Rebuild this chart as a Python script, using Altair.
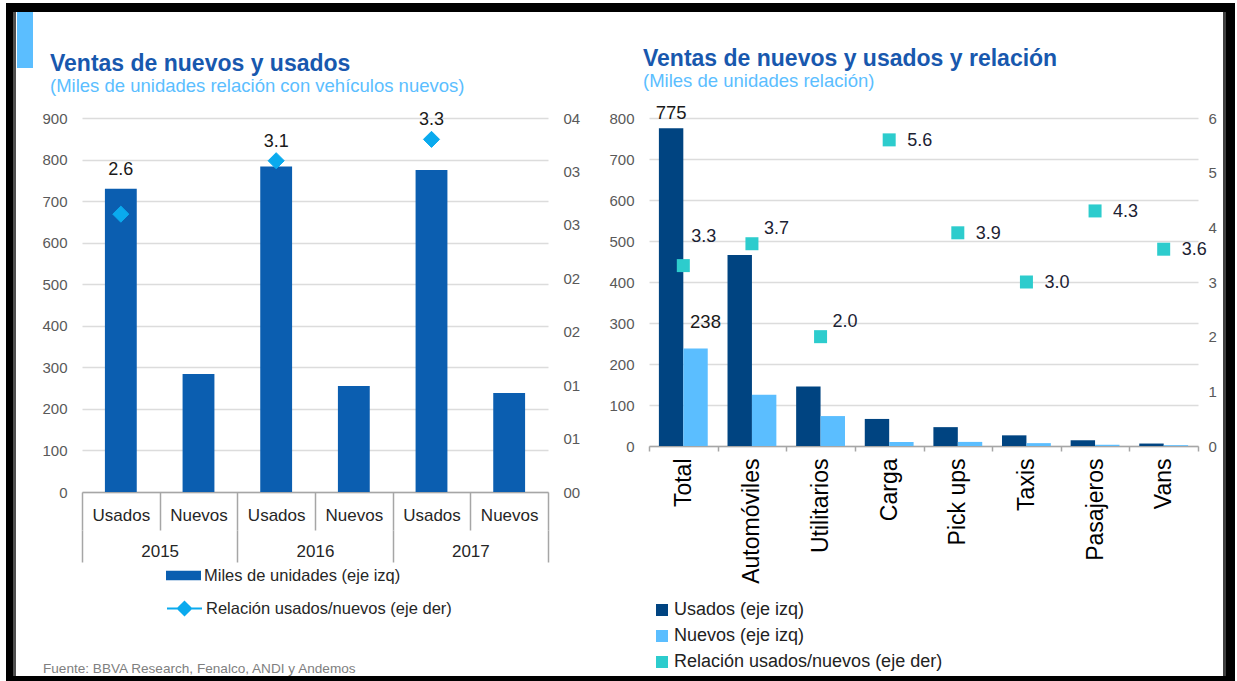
import altair as alt
import pandas as pd

# ---------------- data: left chart ----------------
anios = ["2015", "2015", "2016", "2016", "2017", "2017"]
tipos = ["Usados", "Nuevos", "Usados", "Nuevos", "Usados", "Nuevos"]
miles_unidades = [730, 284, 783, 255, 775, 238]
relacion_anual = [2.6, None, 3.1, None, 3.3, None]
anios_unicos = ["2015", "2016", "2017"]
eje_der_izq = [0, 0.5, 1, 1.5, 2, 2.5, 3, 3.5]

# ---------------- data: right chart ----------------
categorias = ["Total", "Automóviles", "Utilitarios", "Carga", "Pick ups", "Taxis", "Pasajeros", "Vans"]
usados = [775, 466, 145, 66, 46, 26, 14, 6]
nuevos = [238, 125, 73, 10, 10, 7, 3, 2]
relacion = [3.3, 3.7, 2.0, 5.6, 3.9, 3.0, 4.3, 3.6]

S_US = "Usados (eje izq)"
S_NU = "Nuevos (eje izq)"
S_REL = "Relación usados/nuevos (eje der)"

FONT = "Liberation Sans, Arial, sans-serif"
BAR = "#0B5EB0"
DIAM = "#0AAAEE"
NAVY = "#004481"
LIGHT = "#5BBEFF"
TEAL = "#2DCCCD"
TITLE = "#1858AE"
GRID = "#DCDCDC"
AXC = "#A6A6A6"
GREY = "#595959"

keys = [a + " " + t for a, t in zip(anios, tipos)]
left_df = pd.DataFrame({
    "anio": anios, "tipo": tipos, "key": keys, "miles": miles_unidades,
    "rel": relacion_anual,
    "leyenda": "Miles de unidades (eje izq)",
    "leyenda2": S_REL,
})
rel_df = left_df.dropna(subset=["rel"]).copy()
one = pd.DataFrame({"a": [0]})


def deco(x1, x2, y1, y2, color):
    return alt.Chart(one).mark_rect(color=color).encode(
        x=alt.value(x1), x2=alt.value(x2), y=alt.value(y1), y2=alt.value(y2))


def label(text, x, y, size, color, bold=False):
    return alt.Chart(one).mark_text(
        text=text, align="left", baseline="alphabetic", font=FONT,
        fontSize=size, fontWeight="bold" if bold else "normal", color=color
    ).encode(x=alt.value(x), y=alt.value(y))


xs_left = alt.Scale(domain=keys, paddingInner=0, paddingOuter=0)

bars = alt.Chart(left_df).mark_bar(width=alt.RelativeBandSize(0.41)).encode(
    x=alt.X("key:N", sort=keys, scale=xs_left, axis=alt.Axis(
        title=None, labelExpr="split(datum.label, ' ')[1]", tickBand="extent",
        tickSize=38, tickColor=AXC, tickWidth=1.5, domainColor=AXC, domainWidth=1.5,
        labelPadding=-23, labelFont=FONT, labelFontSize=17, labelColor="#262626",
        labelAngle=0, grid=False)),
    y=alt.Y("miles:Q", scale=alt.Scale(domain=[0, 900]), axis=alt.Axis(
        title=None, values=list(range(0, 901, 100)), grid=True, gridColor=GRID,
        gridWidth=1.5, ticks=False, domain=False, labelPadding=15, labelFont=FONT,
        labelFontSize=15, labelColor=GREY)),
    color=alt.Color("leyenda:N", scale=alt.Scale(range=[BAR]), legend=alt.Legend(
        title=None, orient="none", legendX=84, legendY=440,
        symbolType="M-1,-0.27H1V0.27H-1Z", symbolSize=1225, symbolStrokeWidth=0,
        labelFont=FONT, labelFontSize=16.5, labelColor="#262626", labelOffset=3,
        labelLimit=0, padding=0)),
)

legend_diam = alt.Legend(
    title=None, orient="none", legendX=84, legendY=472,
    symbolType="M-1,0H1M0,-0.38L0.38,0L0,0.38L-0.38,0Z", symbolSize=1225,
    symbolStrokeWidth=2, labelFont=FONT, labelFontSize=16.5, labelColor="#262626",
    labelOffset=3, labelLimit=0, padding=0)

diamonds = alt.Chart(rel_df).mark_point(shape="diamond", filled=True, size=260,
                                        opacity=1, strokeWidth=1).encode(
    x=alt.X("key:N", sort=keys, scale=xs_left, axis=None),
    y=alt.Y("rel:Q", scale=alt.Scale(domain=[0, 3.5]), axis=alt.Axis(
        title=None, orient="right", values=eje_der_izq, grid=False, ticks=False,
        domain=False, labelPadding=15, labelFont=FONT, labelFontSize=15,
        labelColor=GREY,
        labelExpr="(round(datum.value) < 10 ? '0' : '') + round(datum.value)")),
    fill=alt.Fill("leyenda2:N", scale=alt.Scale(range=[DIAM]), legend=legend_diam),
    stroke=alt.Stroke("leyenda2:N", scale=alt.Scale(range=[DIAM]), legend=legend_diam),
)

rel_labels = alt.Chart(rel_df).transform_calculate(
    pos="max(datum.miles, datum.rel * 900 / 3.5)"
).mark_text(dy=-19, baseline="middle", font=FONT, fontSize=18, color="#1a1a1a").encode(
    x=alt.X("key:N", sort=keys, scale=xs_left, axis=None),
    y=alt.Y("pos:Q", scale=alt.Scale(domain=[0, 900]), axis=None),
    text=alt.Text("rel:Q", format=".1f"),
)

year_axis = alt.Chart(pd.DataFrame({"anio": anios_unicos})).mark_point(opacity=0).encode(
    x=alt.X("anio:N", sort=anios_unicos,
            scale=alt.Scale(domain=anios_unicos, paddingInner=0, paddingOuter=0),
            axis=alt.Axis(title=None, orient="bottom", offset=38, domain=False,
                          tickBand="extent", tickSize=32, tickColor=AXC, tickWidth=1.5,
                          labelPadding=-19, labelAngle=0, labelFont=FONT,
                          labelFontSize=17, labelColor="#262626", grid=False)),
    y=alt.value(0),
)

# frame of the whole figure (relative to the left plot origin at page 82,118)
left = alt.layer(
    deco(-76, 1153, -115, -106, "#000000"),
    deco(-76, 1153, 558, 563, "#000000"),
    deco(-76, -69, -115, 563, "#000000"),
    deco(-69, -66, -106, 558, "#505050"),
    deco(1144, 1153, -115, 563, "#000000"),
    deco(1141, 1144, -106, 558, "#404040"),
    deco(-65, -49, -106, -50, LIGHT),
    label("Ventas de nuevos y usados", -32, -47, 23, TITLE, bold=True),
    label("(Miles de unidades relación con vehículos nuevos)", -32, -26, 18.5, LIGHT),
    label("Fuente: BBVA Research, Fenalco, ANDI y Andemos", -39, 555, 13.6, "#7F7F7F"),
    bars, diamonds, rel_labels, year_axis,
).resolve_scale(x="independent", y="independent", color="independent",
                fill="independent", stroke="independent").properties(
    width=466, height=374)

# ---------------- right chart ----------------
long_df = pd.DataFrame({
    "categoria": categorias * 2,
    "serie": [S_US] * len(categorias) + [S_NU] * len(categorias),
    "valor": usados + nuevos,
})
rel2 = pd.DataFrame({"categoria": categorias, "relacion": relacion, "serie": S_REL})

xs_right = alt.Scale(domain=categorias, paddingInner=0, paddingOuter=0)
x_axis_right = alt.Axis(
    title=None, tickBand="extent", tickSize=5, tickColor=AXC, tickWidth=1.5,
    domainColor=AXC, domainWidth=1.5, labelAngle=270, labelAlign="right",
    labelBaseline="middle", labelPadding=7, labelFont=FONT, labelFontSize=23,
    labelColor="#000000", grid=False)
x_right = alt.X("categoria:N", sort=categorias, scale=xs_right, axis=x_axis_right)
xo_scale = alt.Scale(domain=[S_US, S_NU], paddingInner=0, paddingOuter=0.405)
color_right = alt.Scale(domain=[S_US, S_NU, S_REL], range=[NAVY, LIGHT, TEAL])
legend_right = alt.Legend(
    title=None, orient="none", legendX=4, legendY=483, symbolType="square",
    symbolSize=144, symbolStrokeWidth=0, labelFont=FONT, labelFontSize=18,
    labelColor="#222222", rowPadding=8, labelOffset=3, labelLimit=0, padding=0)

bars2 = alt.Chart(long_df).mark_bar().encode(
    x=x_right,
    xOffset=alt.XOffset("serie:N", sort=[S_US, S_NU], scale=xo_scale),
    y=alt.Y("valor:Q", scale=alt.Scale(domain=[0, 800]), axis=alt.Axis(
        title=None, values=list(range(0, 801, 100)), grid=True, gridColor=GRID,
        gridWidth=1.5, ticks=False, domain=False, labelPadding=15, labelFont=FONT,
        labelFontSize=15, labelColor=GREY)),
    color=alt.Color("serie:N", scale=color_right, legend=legend_right),
)

squares = alt.Chart(rel2).mark_square(size=169, opacity=1).encode(
    x=x_right,
    y=alt.Y("relacion:Q", scale=alt.Scale(domain=[0, 6]), axis=alt.Axis(
        title=None, orient="right", values=[0, 1, 2, 3, 4, 5, 6], grid=False,
        ticks=False, domain=False, labelPadding=10, labelFont=FONT,
        labelFontSize=15, labelColor=GREY)),
    color=alt.Color("serie:N", scale=color_right, legend=legend_right),
)


def rel_text(cats, dx, dy):
    return alt.Chart(rel2).transform_filter(
        alt.FieldOneOfPredicate(field="categoria", oneOf=cats)
    ).mark_text(align="left", baseline="middle", dx=dx, dy=dy, font=FONT,
                fontSize=18, color="#1c2233").encode(
        x=x_right,
        y=alt.Y("relacion:Q", scale=alt.Scale(domain=[0, 6]), axis=None),
        text=alt.Text("relacion:Q", format=".1f"),
    )


def bar_text(serie, dx, dy):
    return alt.Chart(long_df).transform_filter(
        (alt.datum.categoria == "Total") & (alt.datum.serie == serie)
    ).mark_text(baseline="middle", dx=dx, dy=dy, font=FONT, fontSize=18.5,
                color="#1a1a1a").encode(
        x=x_right,
        xOffset=alt.XOffset("serie:N", sort=[S_US, S_NU], scale=xo_scale),
        y=alt.Y("valor:Q", scale=alt.Scale(domain=[0, 800]), axis=None),
        text=alt.Text("valor:Q", format="d"),
    )


right = alt.layer(
    label("Ventas de nuevos y usados y relación", -6, -52, 23, TITLE, bold=True),
    label("(Miles de unidades relación)", -6, -31, 18.5, LIGHT),
    bars2, squares,
    rel_text(["Total"], 8, -29),
    rel_text(["Automóviles", "Utilitarios"], 12, -15),
    rel_text(["Carga", "Pick ups", "Taxis", "Pasajeros", "Vans"], 18, 1),
    bar_text(S_US, 0, -15),
    bar_text(S_NU, 10, -26),
).resolve_scale(y="independent").properties(width=549, height=328)

chart = alt.hconcat(left, right, spacing=101, bounds="flush").resolve_scale(
    color="independent"
).properties(
    padding={"left": 6, "top": 3, "right": 2, "bottom": 0},
    background="white",
).configure_view(stroke=None)

chart.save("out.html", embed_options={"renderer": "svg", "actions": False})
